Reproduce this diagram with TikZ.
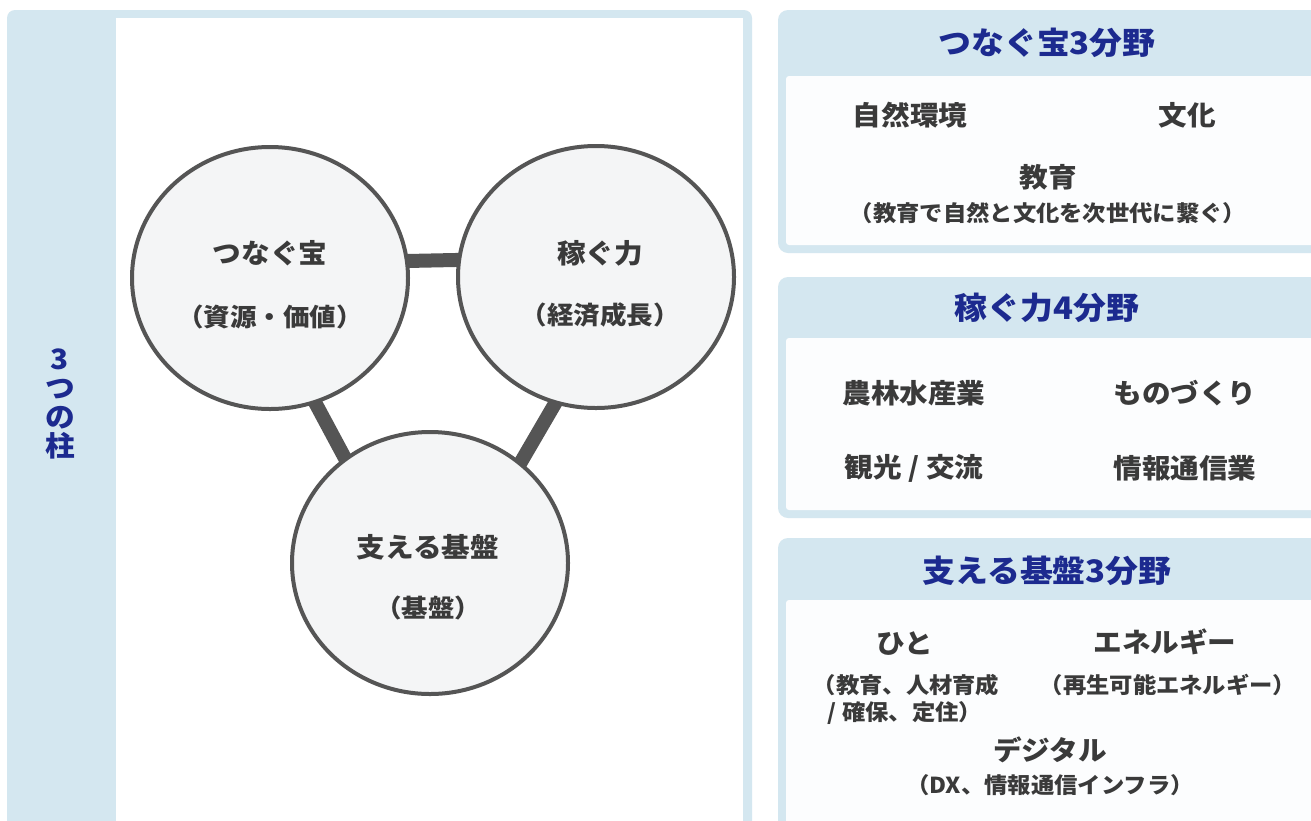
\documentclass[tikz,border=0pt]{standalone}
\usepackage{fontspec}
\setmainfont{Noto Sans CJK JP}[FakeStretch=1.06]
\usetikzlibrary{shapes.geometric}
\definecolor{paneblue}{HTML}{D4E7F0}
\definecolor{navy}{HTML}{1C2A8F}
\definecolor{ink}{HTML}{3A3A3A}
\definecolor{ring}{HTML}{555555}
\definecolor{disc}{HTML}{F4F5F6}
\definecolor{bodywhite}{HTML}{FCFDFE}
\pgfdeclarelayer{bottom}
\pgfdeclarelayer{background}
\pgfsetlayers{bottom,background,main}
\begin{document}
\begin{tikzpicture}[x=1pt,y=-1pt,
  pillar/.style={ellipse, draw=ring, line width=4pt, fill=disc, minimum width=276pt, minimum height=262pt, inner sep=0pt},
  link/.style={draw=ring, line width=14pt, shorten <=-10pt, shorten >=-10pt},
  lbl/.style={text=ink, font=\fontsize{27}{30}\selectfont\bfseries, inner sep=0pt},
  sub/.style={text=ink, font=\fontsize{25}{28}\selectfont\bfseries, inner sep=0pt},
  ttl/.style={text=navy, font=\fontsize{31}{34}\selectfont\bfseries, inner sep=0pt},
  item/.style={text=ink, font=\fontsize{27}{30}\selectfont\bfseries, inner sep=0pt},
  note/.style={text=ink, font=\fontsize{22}{25}\selectfont\bfseries, inner sep=0pt},
  pane/.style={fill=paneblue, rounded corners=10pt},
  panebody/.style={fill=bodywhite, rounded corners=3pt},
]
\useasboundingbox (0,0) rectangle (1311,820);
\begin{pgfonlayer}{bottom}
  \fill[white] (0,0) rectangle (1311,820);
  % left panel
  \fill[paneblue, rounded corners=8pt] (7,10) rectangle (752,850);
  \fill[white] (116,18) rectangle (743,850);
  % right panels
  \path[pane] (778,10) rectangle (1340,253);
  \path[panebody] (786,76) rectangle (1330,245);
  \path[pane] (778,277) rectangle (1340,518);
  \path[panebody] (786,338) rectangle (1330,510);
  \path[pane] (778,538) rectangle (1340,850);
  \path[panebody] (786,600) rectangle (1330,850);
\end{pgfonlayer}

% vertical label
\node[text=navy, font=\fontsize{28}{29}\selectfont\bfseries, align=center, inner sep=0pt] (pillars) at (60,404) {3\\つ\\の\\柱};

% circles
\node[pillar] (c1) at (270,278) {};
\node[pillar] (c2) at (596,277) {};
\node[pillar] (c3) at (430,563) {};

\node[lbl] (c1a) at (270,253) {つなぐ宝};
\node[sub] (c1b) at (270,317) {（資源・価値）};
\node[lbl] (c2a) at (600,253) {稼ぐ力};
\node[sub] (c2b) at (600,315) {（経済成長）};
\node[lbl] (c3a) at (428,547) {支える基盤};
\node[sub] (c3b) at (428,608) {（基盤）};

\begin{pgfonlayer}{background}
  \draw[link] (c1.7) -- (c2.173);
  \draw[link] (c1.-70) -- (c3.129);
  \draw[link] (c2.-108) -- (c3.48);
\end{pgfonlayer}

% panel 1
\node[ttl] (t1) at (1047,43) {つなぐ宝3分野};
\node[item] (t1a) at (910,115) {自然環境};
\node[item] (t1b) at (1187,115) {文化};
\node[item] (t1c) at (1048,177) {教育};
\node[note] (t1d) at (1048,213) {（教育で自然と文化を次世代に繋ぐ）};

% panel 2
\node[ttl] (t2) at (1047,308) {稼ぐ力4分野};
\node[item] (t2a) at (914,393) {農林水産業};
\node[item] (t2b) at (1185,393) {ものづくり};
\node[item] (t2c) at (914,468) {観光 / 交流};
\node[item] (t2d) at (1185,468) {情報通信業};

% panel 3
\node[ttl] (t3) at (1047,571) {支える基盤3分野};
\node[item] (t3a) at (905,644) {ひと};
\node[item] (t3b) at (1165,642) {エネルギー};
\node[note] (t3c) at (906,685) {（教育、人材育成};
\node[note] (t3d) at (905,713) {/ 確保、定住）};
\node[note] (t3e) at (1168,685) {（再生可能エネルギー）};
\node[item] (t3f) at (1050,750) {デジタル};
\node[note] (t3g) at (1050,785) {（DX、情報通信インフラ）};
\end{tikzpicture}
\end{document}
